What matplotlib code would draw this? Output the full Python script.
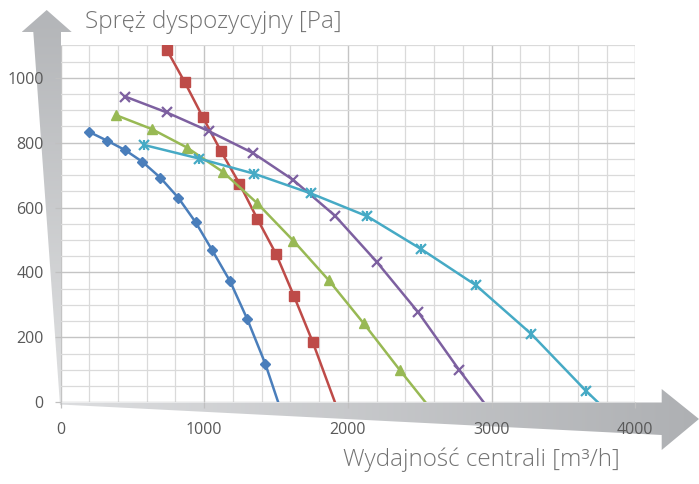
import numpy as np
import matplotlib
matplotlib.use("Agg")
import matplotlib.pyplot as plt
from matplotlib.patches import Polygon
from matplotlib.ticker import MultipleLocator

# ------------------------------------------------------------
# DATA
# ------------------------------------------------------------
blue_x = [200, 325, 450, 570, 695, 820, 940, 1055, 1180, 1300, 1425, 1515]
blue_y = [833, 806, 777, 741, 692, 630, 555, 469, 373, 256, 119, 0]

red_x = [740, 865, 990, 1115, 1245, 1370, 1500, 1625, 1755, 1910]
red_y = [1086, 986, 879, 775, 674, 565, 457, 327, 186, 0]

green_x = [385, 635, 880, 1130, 1370, 1620, 1865, 2110, 2360, 2540]
green_y = [885, 842, 785, 710, 613, 498, 377, 243, 100, 0]

purple_x = [450, 740, 1030, 1340, 1620, 1910, 2200, 2490, 2775, 2945]
purple_y = [942, 893, 836, 768, 685, 575, 433, 277, 99, 0]

cyan_x = [580, 965, 1350, 1740, 2135, 2510, 2890, 3275, 3655, 3740]
cyan_y = [793, 751, 704, 644, 573, 472, 361, 211, 36, 0]

x_label = "Wydajność centrali [m³/h]"
y_label = "Spręż dyspozycyjny [Pa]"

# ------------------------------------------------------------
# FIGURE
# ------------------------------------------------------------
plt.rcParams["font.family"] = ["Open Sans", "DejaVu Sans"]

W, H = 699, 484
fig = plt.figure(figsize=(W / 100, H / 100), dpi=100)

# background layer in pixel coordinates for the grey arrows
bg = fig.add_axes([0, 0, 1, 1], zorder=0)
bg.set_xlim(0, W)
bg.set_ylim(H, 0)
bg.axis("off")


def gradient_arrow(ax, pts, c_start, c_end, vertical):
    pts = np.array(pts, dtype=float)
    poly = Polygon(pts, closed=True, facecolor="none", edgecolor="none")
    ax.add_patch(poly)
    x0, x1 = pts[:, 0].min(), pts[:, 0].max()
    y0, y1 = pts[:, 1].min(), pts[:, 1].max()
    t = np.linspace(0, 1, 256)
    c0 = np.array(matplotlib.colors.to_rgb(c_start))
    c1 = np.array(matplotlib.colors.to_rgb(c_end))
    cols = c0[None, :] * (1 - t[:, None]) + c1[None, :] * t[:, None]
    if vertical:
        img = cols[:, None, :]          # rows top -> bottom
    else:
        img = cols[None, :, :]          # columns left -> right
    im = ax.imshow(img, extent=(x0, x1, y1, y0), aspect="auto",
                   interpolation="bilinear", zorder=1)
    im.set_clip_path(poly)


# y-axis arrow (dark at top, light at bottom)
gradient_arrow(bg,
               [(46.7, 10), (71.7, 32), (61, 32), (61, 405),
                (60, 405), (33.3, 32), (21.7, 32)],
               "#b3b5b8", "#e0e1e2", vertical=True)

# x-axis arrow (light at left, dark at right)
gradient_arrow(bg,
               [(60, 402.5), (661.7, 402.5), (661.7, 389), (699, 419),
                (661.7, 450), (661.7, 435), (60, 404.5)],
               "#dcdddf", "#aeb0b3", vertical=False)

# main chart
ax = fig.add_axes([60.5 / W, 1 - 402.3 / H, (635.3 - 60.5) / W,
                   (402.3 - 45.3) / H], zorder=1)
ax.set_facecolor("none")

ax.set_xlim(0, 4000)
ax.set_ylim(0, 1100)
ax.xaxis.set_major_locator(MultipleLocator(1000))
ax.xaxis.set_minor_locator(MultipleLocator(200))
ax.yaxis.set_major_locator(MultipleLocator(200))
ax.yaxis.set_minor_locator(MultipleLocator(50))

ax.grid(True, which="minor", color="#dadada", linewidth=0.9)
ax.grid(True, which="major", color="#c4c4c4", linewidth=1.0)
ax.set_axisbelow(True)

for s in ax.spines.values():
    s.set_visible(False)

ax.tick_params(which="major", length=4, width=0.9, color="#c0c0c0",
               labelsize=11.5, labelcolor="#595959")
ax.tick_params(axis="x", which="major", pad=10)
ax.tick_params(axis="y", which="major", pad=8)
ax.tick_params(which="minor", length=0)

lw = 1.8
ax.plot(blue_x, blue_y, color="#4a7ebb", lw=lw, marker="D", ms=5.5,
        markevery=list(range(len(blue_x) - 1)))
ax.plot(red_x, red_y, color="#be4b48", lw=lw, marker="s", ms=6.5,
        markevery=list(range(len(red_x) - 1)))
ax.plot(green_x, green_y, color="#98b954", lw=lw, marker="^", ms=7.5,
        markevery=list(range(len(green_x) - 1)))
ax.plot(purple_x, purple_y, color="#7d60a0", lw=lw, marker="x", ms=7,
        mew=1.6, markevery=list(range(len(purple_x) - 1)))
ax.plot(cyan_x, cyan_y, color="#46aac5", lw=lw, marker="x", ms=7,
        mew=1.6, markevery=list(range(len(cyan_x) - 1)))
ax.plot(cyan_x[:-1], cyan_y[:-1], ls="none", color="#46aac5",
        marker="|", ms=7, mew=1.6)

# axis titles
fig.text(85 / W, 1 - 28.5 / H, y_label, ha="left", va="baseline",
         fontsize=17.5, color="#737373", fontweight="light")
fig.text(620 / W, 1 - 465.7 / H, x_label, ha="right", va="baseline",
         fontsize=17.5, color="#737373", fontweight="light")

fig.savefig("out.png", dpi=100)
